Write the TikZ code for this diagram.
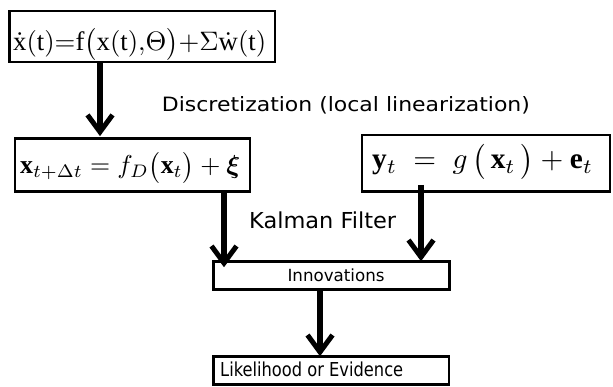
\documentclass[tikz,border=0pt]{standalone}
\usepackage{amsmath,amssymb,bm}
\usepackage{fontspec}
\setmainfont{Liberation Serif}
\newfontfamily\lblfont{DejaVu Sans}
\usetikzlibrary{arrows.meta,calc}
\begin{document}
\begin{tikzpicture}[x=1pt,y=-1pt,
  eqbox/.style={draw=black,line width=2.7pt,inner sep=0pt},
  smallbox/.style={draw=black,line width=2.5pt,inner sep=0pt},
  arr/.style={line width=5.5pt,-{Straight Barb[length=17pt,width=25pt,line width=5pt]}},
  lbl/.style={inner sep=0pt,font=\lblfont,anchor=base west},
  eq/.style={inner sep=0pt,anchor=base west}
]
\useasboundingbox (0,0) rectangle (613,387);
% boxes
\node[eqbox,minimum width=265.5pt,minimum height=51pt] (b1) at (142.25,36.5) {};
\node[eq] (t1) at (13,51) {\resizebox{253pt}{!}{$\dot{\mathrm{x}}(\mathrm{t}){=}\mathrm{f}\bigl(\mathrm{x}(\mathrm{t}),\!\Theta\bigr){+}\Sigma\dot{\mathrm{w}}(\mathrm{t})$}};
\node[eqbox,minimum width=235pt,minimum height=53pt] (b2) at (132.5,165) {};
\node[eq] (t2) at (20,174) {\resizebox{220pt}{!}{$\mathbf{x}_{t+\Delta t} = f_D\bigl(\mathbf{x}_t\bigr)+\bm{\xi}$}};
\node[eqbox,minimum width=248pt,minimum height=56.5pt] (b3) at (486,163.25) {};
\node[eq] (t3) at (372,169) {\resizebox{221pt}{!}{$\mathbf{y}_t\; = \;g\,\bigl(\,\mathbf{x}_t\,\bigr)+\mathbf{e}_t$}};
\node[smallbox,minimum width=236pt,minimum height=28pt] (inn) at (331.5,275.5) {};
\node[lbl] (tinn) at (287.3,281.7) {\resizebox{97pt}{12.7pt}{Innovations}};
\node[smallbox,minimum width=235.5pt,minimum height=28pt] (lik) at (331.25,370.5) {};
\node[lbl] (tlik) at (220,376.7) {\resizebox{183pt}{14.6pt}{Likelihood or Evidence}};
% labels
\node[lbl] (disc) at (161.7,111.7) {\resizebox{368pt}{15pt}{Discretization (local linearization)}};
\node[lbl] (kal) at (249,228.3) {\resizebox{147pt}{16.7pt}{Kalman Filter}};
% arrow columns
\coordinate (c1) at (100,0);
\coordinate (c2) at (224,0);
\coordinate (c3) at (421,0);
\coordinate (c4) at (320,0);
\draw[arr] (c1 |- b1.south) -- ([yshift=1pt]c1 |- b2.north);
\draw[arr] (c2 |- b2.south) -- ([yshift=-7pt]c2 |- inn.north);
\draw[arr] ([yshift=8pt]c3 |- b3.south) -- ([yshift=-1pt]c3 |- inn.north);
\draw[arr] (c4 |- inn.south) -- ([yshift=-1pt]c4 |- lik.north);
\end{tikzpicture}
\end{document}
